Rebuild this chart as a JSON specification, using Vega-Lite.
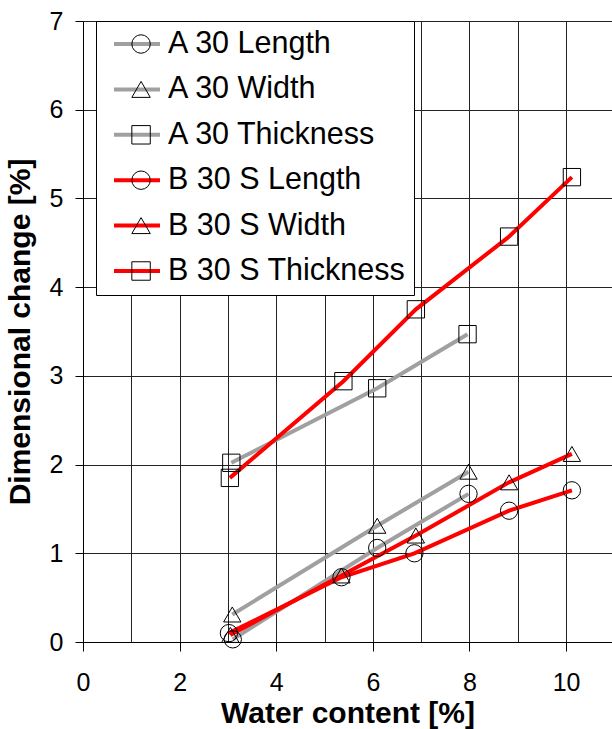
{
  "$schema": "https://vega.github.io/schema/vega-lite/v6.json",
  "autosize": {"type": "none"},
  "padding": {"left": 83, "top": 21, "right": 0, "bottom": 87},
  "width": 529,
  "height": 621,
  "background": "white",
  "config": {
    "font": "Liberation Sans",
    "view": {"stroke": null},
    "axis": {
      "labelFont": "Liberation Sans",
      "titleFont": "Liberation Sans",
      "labelColor": "black",
      "titleColor": "black",
      "domainColor": "black",
      "tickColor": "black",
      "gridColor": "#222222",
      "gridWidth": 1,
      "domainWidth": 1,
      "tickWidth": 1
    },
    "legend": {"labelFont": "Liberation Sans"}
  },
  "data": {
    "values": [
      {"series": "A 30 Length", "x": 3.10, "y": 0.03},
      {"series": "A 30 Length", "x": 6.09, "y": 1.06},
      {"series": "A 30 Length", "x": 7.98, "y": 1.67},
      {"series": "A 30 Width", "x": 3.09, "y": 0.31},
      {"series": "A 30 Width", "x": 6.09, "y": 1.31},
      {"series": "A 30 Width", "x": 7.98, "y": 1.92},
      {"series": "A 30 Thickness", "x": 3.07, "y": 2.02},
      {"series": "A 30 Thickness", "x": 6.09, "y": 2.86},
      {"series": "A 30 Thickness", "x": 7.96, "y": 3.47},
      {"series": "B 30 S Length", "x": 3.02, "y": 0.10},
      {"series": "B 30 S Length", "x": 5.35, "y": 0.73},
      {"series": "B 30 S Length", "x": 6.86, "y": 1.00},
      {"series": "B 30 S Length", "x": 8.82, "y": 1.48},
      {"series": "B 30 S Length", "x": 10.12, "y": 1.71},
      {"series": "B 30 S Width", "x": 3.05, "y": 0.08},
      {"series": "B 30 S Width", "x": 5.35, "y": 0.75},
      {"series": "B 30 S Width", "x": 6.89, "y": 1.20},
      {"series": "B 30 S Width", "x": 8.82, "y": 1.80},
      {"series": "B 30 S Width", "x": 10.12, "y": 2.12},
      {"series": "B 30 S Thickness", "x": 3.04, "y": 1.85},
      {"series": "B 30 S Thickness", "x": 5.39, "y": 2.94},
      {"series": "B 30 S Thickness", "x": 6.89, "y": 3.75},
      {"series": "B 30 S Thickness", "x": 8.82, "y": 4.57},
      {"series": "B 30 S Thickness", "x": 10.12, "y": 5.24}
    ]
  },
  "encoding": {
    "x": {
      "field": "x",
      "type": "quantitative",
      "scale": {"domain": [0, 10.95], "nice": false, "zero": false},
      "axis": {
        "values": [0, 1, 2, 3, 4, 5, 6, 7, 8, 9, 10],
        "labelExpr": "datum.value % 2 === 0 ? datum.label : ''",
        "tickColor": {"condition": {"test": "datum.value % 2 === 0", "value": "black"}, "value": "transparent"},
        "tickSize": 9,
        "labelFontSize": 25,
        "labelPadding": 19,
        "labelFlush": false,
        "title": "Water content [%]",
        "titleFontSize": 30,
        "titleFontWeight": "bold",
        "titlePadding": 3,
        "grid": true
      }
    },
    "y": {
      "field": "y",
      "type": "quantitative",
      "scale": {"domain": [0, 7], "nice": false},
      "axis": {
        "values": [0, 1, 2, 3, 4, 5, 6, 7],
        "tickSize": 8,
        "labelFontSize": 25,
        "labelPadding": 12,
        "labelFlush": false,
        "title": "Dimensional change [%]",
        "titleFontSize": 30,
        "titleFontWeight": "bold",
        "titlePadding": 14,
        "grid": true
      }
    }
  },
  "layer": [
    {
      "mark": {"type": "line", "strokeWidth": 4},
      "encoding": {
        "color": {
          "field": "series",
          "type": "nominal",
          "scale": {
            "domain": ["A 30 Length", "A 30 Width", "A 30 Thickness", "B 30 S Length", "B 30 S Width", "B 30 S Thickness"],
            "range": ["#a0a0a0", "#a0a0a0", "#a0a0a0", "#ff0000", "#ff0000", "#ff0000"]
          },
          "legend": {
            "title": null,
            "orient": "none",
            "legendX": 13,
            "legendY": 0,
            "padding": 8,
            "fillColor": "white",
            "strokeColor": "black",
            "symbolType": "stroke",
            "symbolSize": 2116,
            "symbolStrokeWidth": 4,
            "symbolOffset": 8,
            "labelOffset": 6,
            "labelFontSize": 30.5,
            "labelColor": "black",
            "labelLimit": 400,
            "clipHeight": 30,
            "rowPadding": 14.4
          }
        }
      }
    },
    {
      "mark": {"type": "point", "filled": false, "color": "black", "strokeWidth": 1, "size": 300, "opacity": 1},
      "encoding": {
        "shape": {
          "field": "series",
          "type": "nominal",
          "sort": ["A 30 Length", "A 30 Width", "A 30 Thickness", "B 30 S Length", "B 30 S Width", "B 30 S Thickness"],
          "scale": {"range": ["circle", "triangle-up", "square", "circle", "triangle-up", "square"]},
          "legend": {
            "title": null,
            "orient": "none",
            "legendX": 13,
            "legendY": 0,
            "padding": 8,
            "zindex": 2,
            "symbolSize": 340,
            "symbolStrokeWidth": 1,
            "symbolStrokeColor": "black",
            "symbolFillColor": "transparent",
            "symbolOffset": 21.8,
            "labelExpr": "''",
            "labelFontSize": 30.5,
            "clipHeight": 30,
            "rowPadding": 14.4
          }
        }
      }
    }
  ]
}
